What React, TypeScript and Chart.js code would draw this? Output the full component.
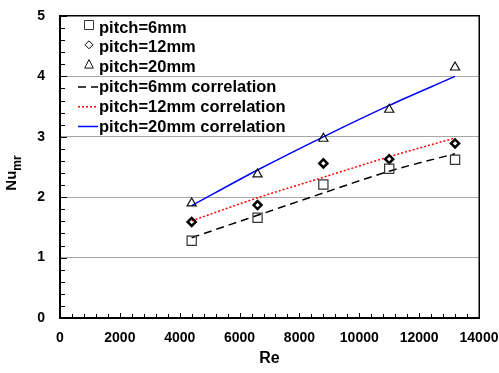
import React, { useEffect, useRef } from "react";
import { Chart, registerables } from "chart.js";

Chart.register(...registerables);

const reValues = [4400, 6600, 8800, 11000, 13200];
const nu6 = [1.28, 1.66, 2.21, 2.47, 2.62];
const nu12 = [1.59, 1.87, 2.56, 2.63, 2.89];
const nu20 = [1.9, 2.38, 2.97, 3.45, 4.15];
const corr6 = [1.33, 1.7, 2.07, 2.43, 2.72];
const corr12 = [1.61, 1.99, 2.33, 2.67, 2.98];
const corr20 = [1.86, 2.45, 3.0, 3.52, 4.0];
const seriesLabels = [
  "pitch=6mm",
  "pitch=12mm",
  "pitch=20mm",
  "pitch=6mm correlation",
  "pitch=12mm correlation",
  "pitch=20mm correlation",
];
const xTitle = "Re";
const yTitleMain = "Nu";
const yTitleSub = "mr";

const FONT = "'Liberation Sans', Arial, sans-serif";

const toPts = (ys: number[]) => reValues.map((x, i) => ({ x, y: ys[i] }));

function drawFrame(c: any) {
  const ctx = c.ctx;
  const a = c.chartArea;
  const xs = c.scales.x;
  const ys = c.scales.y;
  const L = Math.round(a.left);
  const R = Math.round(a.right);
  const T = Math.round(a.top);
  const B = Math.round(a.bottom);
  ctx.save();
  ctx.setTransform(1, 0, 0, 1, 0, 0);
  ctx.globalAlpha = 1;
  ctx.globalCompositeOperation = "source-over";
  ctx.fillStyle = "#000000";
  for (let i = 0; i <= 25; i++) {
    const py = Math.round(ys.getPixelForValue(i * 0.2));
    const len = i % 5 === 0 ? 6 : 4;
    ctx.fillRect(L, py, len + 1, 1);
  }
  for (let i = 0; i <= 35; i++) {
    const px = Math.round(xs.getPixelForValue(i * 400));
    const len = i % 5 === 0 ? 5 : 4;
    ctx.fillRect(px, B - len, 1, len);
  }
  // top and right borders
  ctx.fillRect(L - 1, T - 1, R - L + 2, 1.5);
  ctx.fillRect(R - 0.5, T - 1, 1.5, B - T + 2);
  // left and bottom axes
  ctx.fillRect(L - 1, T - 1, 2, B - T + 2);
  ctx.fillRect(L - 1, B - 1, R - L + 2, 2);
  ctx.restore();
}

function drawTexts(c: any) {
  const ctx = c.ctx;
  ctx.save();
  ctx.fillStyle = "#000";
  ctx.translate(16, 173);
  ctx.rotate(-Math.PI / 2);
  ctx.font = `bold 15px ${FONT}`;
  const wMain = ctx.measureText(yTitleMain).width;
  ctx.font = `bold 12px ${FONT}`;
  const wSub = ctx.measureText(yTitleSub).width;
  const total = wMain + wSub;
  ctx.textBaseline = "alphabetic";
  ctx.textAlign = "left";
  ctx.font = `bold 15px ${FONT}`;
  ctx.fillText(yTitleMain, -total / 2, 0);
  ctx.font = `bold 12px ${FONT}`;
  ctx.fillText(yTitleSub, -total / 2 + wMain, 5);
  ctx.restore();

  ctx.save();
  ctx.font = `bold 16.5px ${FONT}`;
  ctx.textBaseline = "middle";
  ctx.textAlign = "left";
  c.data.datasets.forEach((ds: any, i: number) => {
    const cy = 27 + i * 19.8;
    if (ds.showLine) {
      ctx.save();
      ctx.strokeStyle = ds.borderColor;
      ctx.lineWidth = ds.borderWidth;
      if (ds.borderDash) ctx.setLineDash(ds.borderDash);
      ctx.beginPath();
      ctx.moveTo(78, cy + 0.5);
      ctx.lineTo(98, cy + 0.5);
      ctx.stroke();
      ctx.restore();
    } else {
      ctx.save();
      ctx.strokeStyle = ds.pointBorderColor;
      ctx.lineWidth = 1;
      ctx.beginPath();
      const mx = 89;
      const my = cy - 2;
      if (ds.pointStyle === "rect") {
        ctx.rect(mx - 4.5, my - 4.5, 9, 9);
      } else if (ds.pointStyle === "rectRot") {
        const r = 4;
        ctx.moveTo(mx - r, my);
        ctx.lineTo(mx, my - r);
        ctx.lineTo(mx + r, my);
        ctx.lineTo(mx, my + r);
        ctx.closePath();
      } else {
        const r = 5;
        ctx.moveTo(mx, my - r);
        ctx.lineTo(mx + r * 0.866, my + r * 0.5 + 1);
        ctx.lineTo(mx - r * 0.866, my + r * 0.5 + 1);
        ctx.closePath();
      }
      ctx.stroke();
      ctx.restore();
    }
    ctx.fillStyle = "#000";
    ctx.fillText(ds.label, 99, cy + 1);
  });
  ctx.restore();
}

const noPad = (s: any) => {
  s.paddingTop = 0;
  s.paddingBottom = 0;
  s.paddingLeft = 0;
  s.paddingRight = 0;
};

export default function App() {
  const ref = useRef<HTMLCanvasElement | null>(null);
  useEffect(() => {
    document.body.style.margin = "0";
    if (!ref.current) return;
    const chart = new Chart(ref.current, {
      type: "scatter",
      data: {
        datasets: [
          {
            label: seriesLabels[0],
            data: toPts(nu6),
            showLine: false,
            pointStyle: "rect",
            pointRadius: 6.5,
            pointHoverRadius: 6.5,
            pointBorderColor: "#333",
            pointBackgroundColor: "rgba(0,0,0,0)",
            pointBorderWidth: 1.2,
            order: 1,
          },
          {
            label: seriesLabels[1],
            data: toPts(nu12),
            showLine: false,
            pointStyle: "rectRot",
            pointRadius: 4,
            pointHoverRadius: 4,
            pointBorderColor: "#000",
            pointBackgroundColor: "rgba(0,0,0,0)",
            pointBorderWidth: 2.5,
            order: 1,
          },
          {
            label: seriesLabels[2],
            data: toPts(nu20),
            showLine: false,
            pointStyle: "triangle",
            pointRadius: 5.3,
            pointHoverRadius: 5.3,
            pointBorderColor: "#111",
            pointBackgroundColor: "rgba(0,0,0,0)",
            pointBorderWidth: 1.2,
            order: 1,
          },
          {
            label: seriesLabels[3],
            data: toPts(corr6),
            showLine: true,
            borderColor: "#000",
            borderWidth: 1.5,
            borderDash: [8, 5],
            pointRadius: 0,
            cubicInterpolationMode: "monotone",
            order: 2,
          },
          {
            label: seriesLabels[4],
            data: toPts(corr12),
            showLine: true,
            borderColor: "#ff0000",
            borderWidth: 1.5,
            borderDash: [2, 2],
            pointRadius: 0,
            cubicInterpolationMode: "monotone",
            order: 2,
          },
          {
            label: seriesLabels[5],
            data: toPts(corr20),
            showLine: true,
            borderColor: "#0000ff",
            borderWidth: 1.5,
            pointRadius: 0,
            cubicInterpolationMode: "monotone",
            order: 2,
          },
        ],
      },
      options: {
        animation: false,
        responsive: false,
        layout: { padding: { top: 16, right: 20, left: 0, bottom: 0 } },
        plugins: { legend: { display: false }, tooltip: { enabled: false } },
        scales: {
          x: {
            type: "linear",
            min: 0,
            max: 14000,
            afterFit: (s: any) => {
              s.height = 55;
              noPad(s);
            },
            ticks: {
              stepSize: 2000,
              color: "#000",
              font: { family: FONT, size: 14, weight: "bold" },
              padding: 12,
              maxRotation: 0,
              callback: (v: any) => String(v),
            },
            grid: { display: false, drawTicks: false },
            border: { display: true, color: "#000", width: 2 },
            title: {
              display: true,
              text: xTitle,
              color: "#000",
              font: { family: FONT, size: 16, weight: "bold" },
              padding: { top: 4, bottom: 5 },
            },
          },
          y: {
            type: "linear",
            min: 0,
            max: 5,
            afterFit: (s: any) => {
              s.width = 60;
              noPad(s);
            },
            ticks: {
              stepSize: 1,
              color: "#000",
              font: { family: FONT, size: 14, weight: "bold" },
              padding: 15,
            },
            grid: {
              drawTicks: false,
              color: (c: any) =>
                c.tick && (c.tick.value === 0 || c.tick.value === 5) ? "rgba(0,0,0,0)" : "#a6a6a6",
              lineWidth: 1,
            },
            border: { display: true, color: "#000", width: 2 },
          },
        },
      },
      plugins: [
        { id: "axisFrame", afterDraw: (c: any) => drawFrame(c) },
        { id: "texts", afterDraw: (c: any) => drawTexts(c) },
      ],
    } as any);
    return () => chart.destroy();
  }, []);
  return (
    <div style={{ position: "absolute", left: 0, top: 0, width: 499, height: 373 }}>
      <canvas ref={ref} width={499} height={373} style={{ display: "block", width: 499, height: 373 }} />
    </div>
  );
}
